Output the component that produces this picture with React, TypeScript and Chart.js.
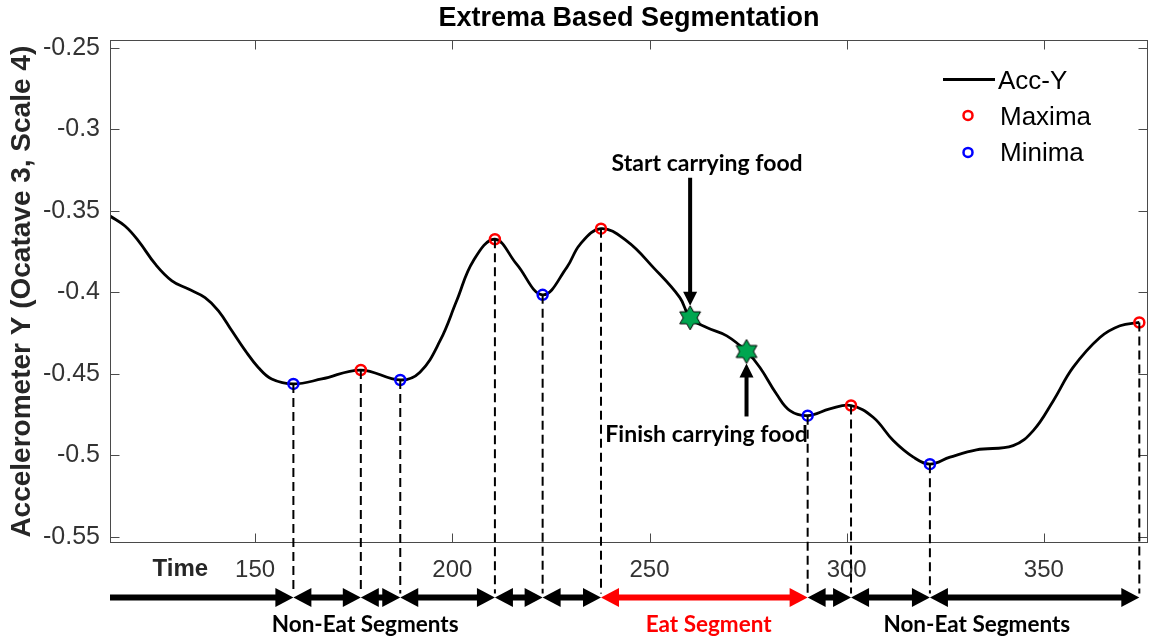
import React, { useEffect, useRef } from "react";
import { Chart, registerables } from "chart.js";

Chart.register(...registerables);

// Acc-Y signal (octave 3, scale 4) sampled along time
const timeValues = [113.2, 117.0, 120.4, 124.7, 128.9, 133.1, 137.3, 140.7, 144.1, 147.5, 150.8, 154.2, 159.7, 166.9, 176.8, 186.8, 191.8, 196.9, 201.1, 205.3, 210.8, 216.3, 222.9, 229.0, 232.4, 237.7, 244.2, 251.0, 257.7, 260.3, 264.5, 269.6, 274.6, 278.0, 282.2, 285.6, 290.1, 295.7, 301.1, 306.7, 311.8, 316.9, 321.1, 326.2, 332.9, 342.2, 347.3, 352.4, 357.4, 364.2, 369.3, 374.2];
const accY = [-0.3531, -0.3593, -0.3684, -0.3827, -0.3929, -0.398, -0.4032, -0.4113, -0.4236, -0.4358, -0.4461, -0.4532, -0.4562, -0.4532, -0.4477, -0.4538, -0.449, -0.4297, -0.4052, -0.3807, -0.3674, -0.3827, -0.4015, -0.3848, -0.3705, -0.3609, -0.3684, -0.3848, -0.4032, -0.4156, -0.4216, -0.4267, -0.4363, -0.4461, -0.4624, -0.4726, -0.4757, -0.4716, -0.4695, -0.4767, -0.491, -0.5012, -0.5055, -0.5012, -0.4967, -0.4941, -0.4849, -0.4665, -0.4461, -0.4277, -0.4205, -0.4185];

// Detected extrema
const maximaTime = [176.8, 210.8, 237.7, 301.1, 374.2];
const maximaAcc = [-0.4477, -0.3674, -0.3609, -0.4695, -0.4185];
const minimaTime = [159.7, 186.8, 222.9, 290.1, 321.1];
const minimaAcc = [-0.4562, -0.4538, -0.4015, -0.4757, -0.5055];

// Food-carrying events
const carryTime = [260.3, 274.6];
const carryAcc = [-0.4156, -0.4363];
const carryLabels = ["Start carrying food", "Finish carrying food"];

// Axes
const xTicks = [150, 200, 250, 300, 350];
const yTicks = [-0.55, -0.5, -0.45, -0.4, -0.35, -0.3, -0.25];
const xRange = [113.2, 376.4];
const yRange = [-0.5539, -0.2453];

// Segment annotation row
const eatSegment = [237.7, 290.1];
const segmentLabels = ["Non-Eat Segments", "Eat Segment", "Non-Eat Segments"];
const segmentLabelTime = [177.9, 265.0, 333.0];

const SANS = '"Liberation Sans", Arial, Helvetica, sans-serif';
const CALI = 'Lato, "Open Sans", sans-serif';
const AXIS_GREY = "#4a4a4a";
const STAR_GREEN = "#00A650";

function makeHexagram(r: number, fill: string): HTMLCanvasElement {
  const size = Math.ceil(r * 2 + 4);
  const c = document.createElement("canvas");
  c.width = size;
  c.height = size;
  const g = c.getContext("2d")!;
  g.translate(size / 2, size / 2);
  g.beginPath();
  for (let i = 0; i < 12; i++) {
    const rad = i % 2 === 0 ? r : r / Math.sqrt(3);
    const a = -Math.PI / 2 + (i * Math.PI) / 6;
    const px = Math.cos(a) * rad;
    const py = Math.sin(a) * rad;
    if (i === 0) g.moveTo(px, py);
    else g.lineTo(px, py);
  }
  g.closePath();
  g.fillStyle = fill;
  g.fill();
  g.lineWidth = 1;
  g.strokeStyle = "#000";
  g.stroke();
  return c;
}

function hArrow(ctx: CanvasRenderingContext2D, x1: number, x2: number, y: number, color: string, headStart: boolean, headEnd: boolean) {
  const hl = 18, hw = 9.5, sw = 6;
  ctx.fillStyle = color;
  const s = headStart ? x1 + hl - 1 : x1;
  const e = headEnd ? x2 - hl + 1 : x2;
  ctx.fillRect(s, y - sw / 2, e - s, sw);
  if (headEnd) {
    ctx.beginPath();
    ctx.moveTo(x2, y);
    ctx.lineTo(x2 - hl, y - hw);
    ctx.lineTo(x2 - hl, y + hw);
    ctx.closePath();
    ctx.fill();
  }
  if (headStart) {
    ctx.beginPath();
    ctx.moveTo(x1, y);
    ctx.lineTo(x1 + hl, y - hw);
    ctx.lineTo(x1 + hl, y + hw);
    ctx.closePath();
    ctx.fill();
  }
}

function vArrow(ctx: CanvasRenderingContext2D, x: number, yTail: number, yTip: number) {
  const hl = 14, hw = 7, sw = 4;
  const dir = yTip > yTail ? 1 : -1;
  ctx.fillStyle = "#000";
  const shaftEnd = yTip - dir * (hl - 1);
  ctx.fillRect(x - sw / 2, Math.min(yTail, shaftEnd), sw, Math.abs(shaftEnd - yTail));
  ctx.beginPath();
  ctx.moveTo(x, yTip);
  ctx.lineTo(x - hw, yTip - dir * hl);
  ctx.lineTo(x + hw, yTip - dir * hl);
  ctx.closePath();
  ctx.fill();
}

const overlayPlugin = {
  id: "segmentationOverlay",
  afterDraw(chart: any) {
    const { ctx, chartArea, scales } = chart;
    const xs = scales.x;
    const ys = scales.y;
    const L = Math.round(chartArea.left) + 0.5;
    const R = Math.round(chartArea.right) - 0.5;
    const T = Math.round(chartArea.top) + 0.5;
    const B = Math.round(chartArea.bottom) - 0.5;
    ctx.save();

    // axes box with inward ticks on all four sides
    ctx.strokeStyle = AXIS_GREY;
    ctx.lineWidth = 1;
    ctx.strokeRect(L, T, R - L, B - T);
    const tl = 9;
    ctx.beginPath();
    xTicks.forEach((v) => {
      const px = Math.round(xs.getPixelForValue(v)) + 0.5;
      ctx.moveTo(px, B); ctx.lineTo(px, B - tl);
      ctx.moveTo(px, T); ctx.lineTo(px, T + tl);
    });
    yTicks.forEach((v) => {
      const py = Math.round(ys.getPixelForValue(v)) + 0.5;
      ctx.moveTo(L, py); ctx.lineTo(L + tl, py);
      ctx.moveTo(R, py); ctx.lineTo(R - tl, py);
    });
    ctx.stroke();

    // "Time" caption next to the tick labels
    ctx.fillStyle = "#262626";
    ctx.font = `bold 24px ${SANS}`;
    ctx.textAlign = "left";
    ctx.textBaseline = "middle";
    ctx.fillText("Time", L + 42, B + 27);

    // segment arrow row
    const arrowY = B + 55;
    const edges = [...maximaTime, ...minimaTime].sort((a, b) => a - b);
    ctx.setLineDash([9, 5]);
    ctx.strokeStyle = "#000";
    ctx.lineWidth = 2;
    const extrema: [number, number][] = [
      ...maximaTime.map((t, i) => [t, maximaAcc[i]] as [number, number]),
      ...minimaTime.map((t, i) => [t, minimaAcc[i]] as [number, number]),
    ];
    extrema.forEach(([t, v]) => {
      const px = xs.getPixelForValue(t);
      const py = ys.getPixelForValue(v);
      ctx.beginPath();
      ctx.moveTo(px, py);
      ctx.lineTo(px, arrowY - 4);
      ctx.stroke();
    });
    ctx.setLineDash([]);

    hArrow(ctx, chartArea.left, xs.getPixelForValue(edges[0]), arrowY, "#000", false, true);
    for (let i = 0; i < edges.length - 1; i++) {
      const isEat = edges[i] === eatSegment[0] && edges[i + 1] === eatSegment[1];
      hArrow(ctx, xs.getPixelForValue(edges[i]), xs.getPixelForValue(edges[i + 1]), arrowY, isEat ? "#ff0000" : "#000", true, true);
    }

    ctx.font = `bold 22.5px ${CALI}`;
    ctx.textAlign = "center";
    ctx.textBaseline = "middle";
    segmentLabels.forEach((lab, i) => {
      ctx.fillStyle = lab.startsWith("Eat") ? "#ff0000" : "#000";
      ctx.fillText(lab, xs.getPixelForValue(segmentLabelTime[i]), arrowY + 27);
    });

    // food-carrying annotations
    const s0x = xs.getPixelForValue(carryTime[0]);
    const s0y = ys.getPixelForValue(carryAcc[0]);
    const s1x = xs.getPixelForValue(carryTime[1]);
    const s1y = ys.getPixelForValue(carryAcc[1]);
    vArrow(ctx, s0x, s0y - 140, s0y - 12);
    vArrow(ctx, s1x, s1y + 65, s1y + 12);
    ctx.fillStyle = "#000";
    ctx.font = `bold 23px ${CALI}`;
    ctx.fillText(carryLabels[0], s0x + 17, s0y - 154);
    ctx.fillText(carryLabels[1], s1x - 40, s1y + 83);

    // legend
    const lx = chartArea.right - 205;
    const ly = chartArea.top + 39;
    const ds = chart.data.datasets;
    ctx.strokeStyle = ds[0].borderColor;
    ctx.lineWidth = 3;
    ctx.beginPath();
    ctx.moveTo(lx, ly);
    ctx.lineTo(lx + 52, ly);
    ctx.stroke();
    [1, 2].forEach((k, j) => {
      ctx.strokeStyle = ds[k].borderColor;
      ctx.lineWidth = 2.5;
      ctx.beginPath();
      ctx.arc(lx + 25, ly + 36 + j * 37, 4.5, 0, Math.PI * 2);
      ctx.stroke();
    });
    ctx.fillStyle = "#000";
    ctx.font = `26px ${SANS}`;
    ctx.textAlign = "left";
    ctx.textBaseline = "middle";
    ctx.fillText(ds[0].label, lx + 55, ly + 2);
    ctx.fillText(ds[1].label, lx + 57, ly + 38);
    ctx.fillText(ds[2].label, lx + 57, ly + 74);

    ctx.restore();
  },
};

export default function App() {
  const canvasRef = useRef<HTMLCanvasElement>(null);

  useEffect(() => {
    const canvas = canvasRef.current;
    if (!canvas) return;
    const star = makeHexagram(12, STAR_GREEN);
    const chart = new Chart(canvas, {
      type: "scatter",
      data: {
        datasets: [
          {
            label: "Acc-Y",
            data: timeValues.map((t, i) => ({ x: t, y: accY[i] })),
            showLine: true,
            borderColor: "#000000",
            borderWidth: 2.8,
            pointRadius: 0,
            tension: 0.4,
            fill: false,
            order: 10,
          },
          {
            label: "Maxima",
            data: maximaTime.map((t, i) => ({ x: t, y: maximaAcc[i] })),
            pointStyle: "circle",
            pointRadius: 5,
            borderWidth: 2.5,
            borderColor: "#ff0000",
            backgroundColor: "rgba(0,0,0,0)",
            order: 2,
          },
          {
            label: "Minima",
            data: minimaTime.map((t, i) => ({ x: t, y: minimaAcc[i] })),
            pointStyle: "circle",
            pointRadius: 5,
            borderWidth: 2.5,
            borderColor: "#0000ff",
            backgroundColor: "rgba(0,0,0,0)",
            order: 2,
          },
          {
            label: "Carry events",
            data: carryTime.map((t, i) => ({ x: t, y: carryAcc[i] })),
            pointStyle: star,
            order: 1,
          },
        ],
      },
      options: {
        responsive: false,
        animation: false,
        devicePixelRatio: 1,
        events: [],
        layout: { padding: { left: 0, right: 8, top: 0, bottom: 0 } },
        plugins: {
          legend: { display: false },
          tooltip: { enabled: false },
          title: {
            display: true,
            fullSize: false,
            text: "Extrema Based Segmentation",
            color: "#000",
            font: { family: SANS, size: 27, weight: "bold" },
            padding: { top: 2, bottom: 6 },
          },
        },
        scales: {
          x: {
            type: "linear",
            position: "bottom",
            min: xRange[0],
            max: xRange[1],
            grid: { display: false, drawTicks: false },
            border: { display: false },
            ticks: { font: { family: SANS, size: 24 }, color: "#333", padding: 13, maxRotation: 0, autoSkip: false },
            afterBuildTicks: (s: any) => { s.ticks = xTicks.map((v) => ({ value: v })); },
            afterFit: (s: any) => { s.height = 98; },
          },
          y: {
            type: "linear",
            min: yRange[0],
            max: yRange[1],
            grid: { display: false, drawTicks: false },
            border: { display: false },
            ticks: {
              font: { family: SANS, size: 25 },
              color: "#333",
              padding: 10,
              callback: (v: any) => String(Number(Number(v).toFixed(2))),
            },
            afterBuildTicks: (s: any) => { s.ticks = yTicks.map((v) => ({ value: v })); },
            afterFit: (s: any) => { s.width = 110; },
            title: {
              display: true,
              text: "Accelerometer Y (Ocatave 3, Scale 4)",
              color: "#262626",
              font: { family: SANS, size: 28, weight: "bold" },
              padding: { top: 5, bottom: 0 },
            },
          },
        },
      } as any,
      plugins: [overlayPlugin],
    });
    return () => chart.destroy();
  }, []);

  return (
    <div style={{ position: "fixed", left: 0, top: 0, width: 1156, height: 641, background: "#fff" }}>
      <canvas ref={canvasRef} width={1156} height={641} style={{ display: "block" }} />
    </div>
  );
}
